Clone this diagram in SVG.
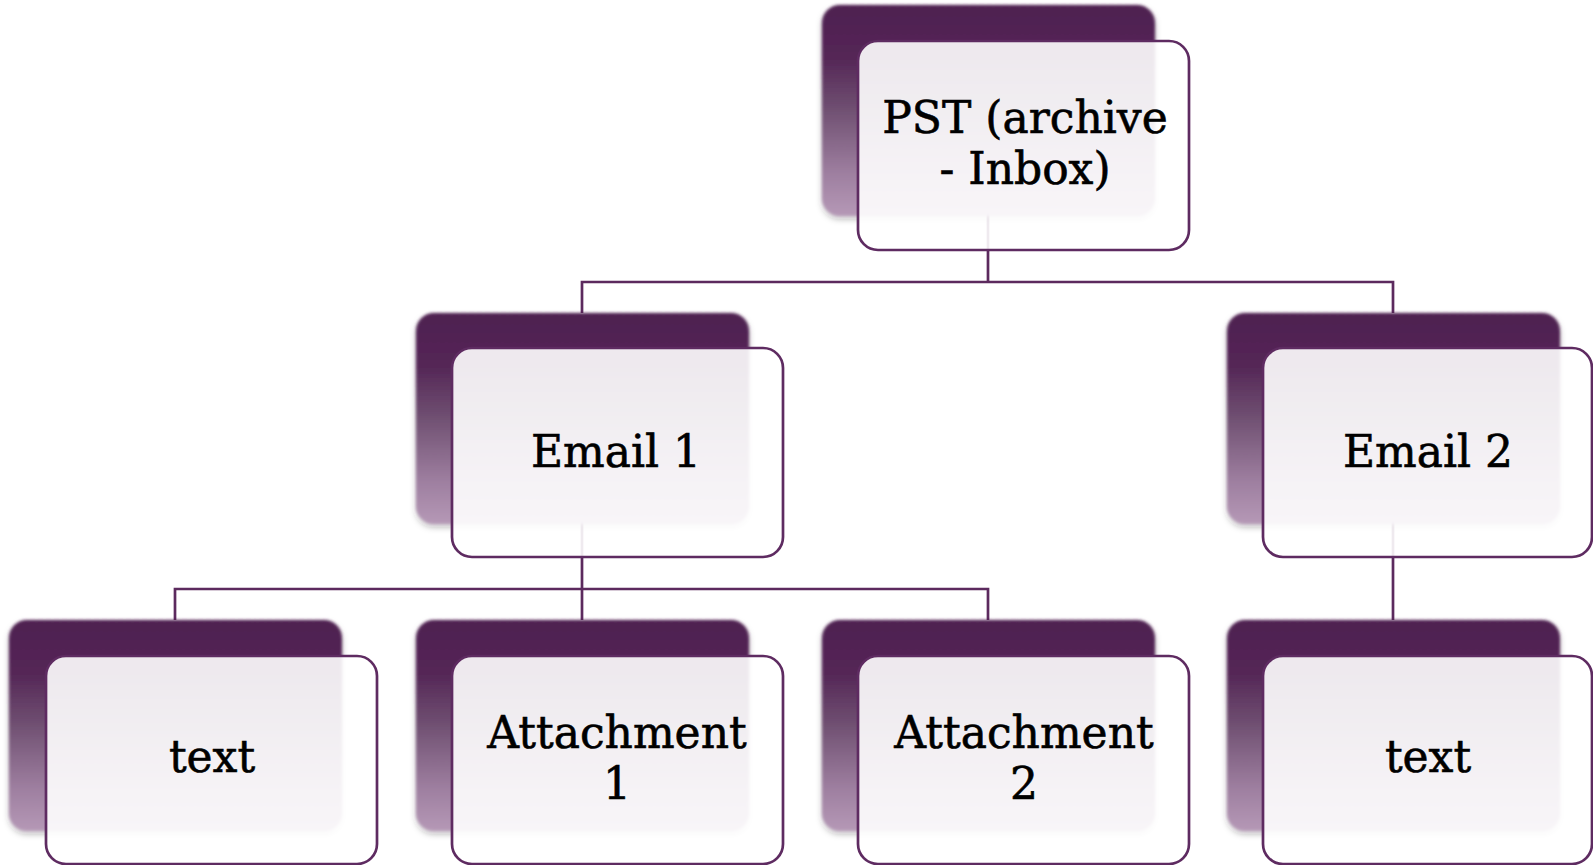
<svg xmlns="http://www.w3.org/2000/svg" width="1593" height="865" viewBox="0 0 1593 865">
  <defs>
    <!-- dark plum tab behind each card: deep at the top, fading to mauve -->
    <linearGradient id="tabFill" x1="0" y1="0" x2="0" y2="1">
      <stop offset="0" stop-color="#4E1F50"/>
      <stop offset="0.25" stop-color="#542656"/>
      <stop offset="0.5" stop-color="#705072"/>
      <stop offset="0.8" stop-color="#9E7FA0"/>
      <stop offset="1" stop-color="#B598B6"/>
    </linearGradient>
    <!-- soft edges plus a light drop shadow for the tabs -->
    <filter id="softTab" x="-10%" y="-10%" width="120%" height="125%">
      <feGaussianBlur in="SourceAlpha" stdDeviation="3" result="sa"/>
      <feOffset in="sa" dx="0" dy="3" result="so"/>
      <feFlood flood-color="#000" flood-opacity="0.3"/>
      <feComposite in2="so" operator="in" result="shadow"/>
      <feGaussianBlur in="SourceGraphic" stdDeviation="1.4" result="soft"/>
      <feMerge>
        <feMergeNode in="shadow"/>
        <feMergeNode in="soft"/>
      </feMerge>
    </filter>
  </defs>
  <style>
    .tab { fill: url(#tabFill); filter: url(#softTab); }
    .card { fill: #FFFFFF; fill-opacity: 0.9; stroke: #5E2B61; stroke-width: 2.7; }
    .link { fill: none; stroke: #5C2A5E; stroke-width: 2.7; }
    .label { font-family: "DejaVu Serif", "Liberation Serif", serif; font-size: 44px; fill: #000000; stroke: #000000; stroke-width: 0.6; text-anchor: middle; }
  </style>

  <rect width="1593" height="865" fill="#FFFFFF"/>

  <!-- connectors (drawn first, they run behind the cards) -->
  <g id="connectors">
    <path class="link" d="M988 110 V282 M582 313 V282 H1393 V313"/>
    <path class="link" d="M582 420 V620 M175 620 V589 H988 V620"/>
    <path class="link" d="M1393 420 V620"/>
  </g>

  <g id="node-pst">
    <rect class="tab" x="822" y="5" width="333" height="211" rx="18"/>
    <rect class="card" x="858" y="41" width="331" height="209" rx="20"/>
    <text class="label" x="1025" y="133">PST (archive</text>
    <text class="label" x="1025" y="184">- Inbox)</text>
  </g>

  <g id="node-email1">
    <rect class="tab" x="416" y="313" width="333" height="211" rx="18"/>
    <rect class="card" x="452" y="348" width="331" height="209" rx="20"/>
    <text class="label" x="616" y="467">Email 1</text>
  </g>

  <g id="node-email2">
    <rect class="tab" x="1227" y="313" width="333" height="211" rx="18"/>
    <rect class="card" x="1263" y="348" width="329" height="209" rx="20"/>
    <text class="label" x="1428" y="467">Email 2</text>
  </g>

  <g id="node-text1">
    <rect class="tab" x="9" y="620" width="333" height="211" rx="18"/>
    <rect class="card" x="46" y="656" width="331" height="208" rx="20"/>
    <text class="label" x="212" y="772">text</text>
  </g>

  <g id="node-attachment1">
    <rect class="tab" x="416" y="620" width="333" height="211" rx="18"/>
    <rect class="card" x="452" y="656" width="331" height="208" rx="20"/>
    <text class="label" x="617" y="748">Attachment</text>
    <text class="label" x="617" y="799">1</text>
  </g>

  <g id="node-attachment2">
    <rect class="tab" x="822" y="620" width="333" height="211" rx="18"/>
    <rect class="card" x="858" y="656" width="331" height="208" rx="20"/>
    <text class="label" x="1024" y="748">Attachment</text>
    <text class="label" x="1024" y="799">2</text>
  </g>

  <g id="node-text2">
    <rect class="tab" x="1227" y="620" width="333" height="211" rx="18"/>
    <rect class="card" x="1263" y="656" width="329" height="208" rx="20"/>
    <text class="label" x="1428" y="772">text</text>
  </g>
</svg>
